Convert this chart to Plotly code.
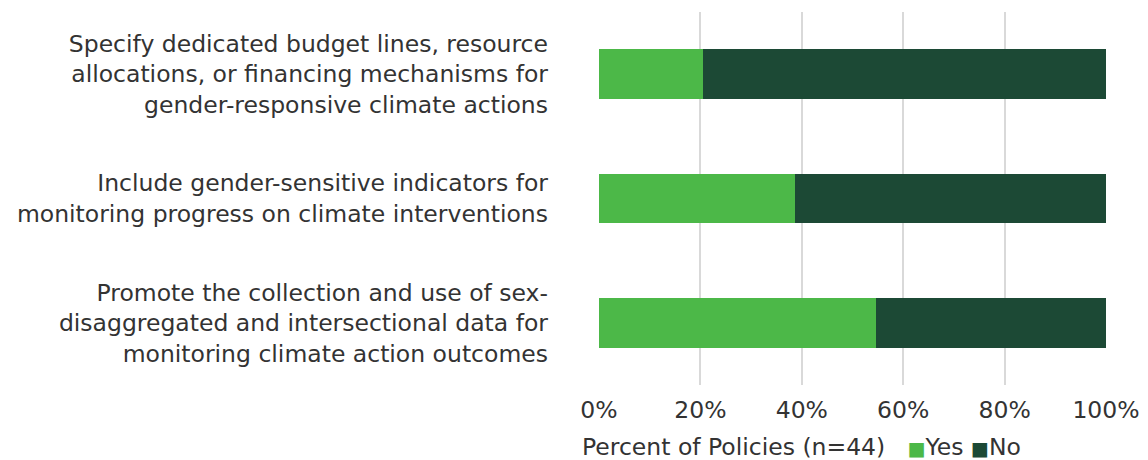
import plotly.graph_objects as go

categories = [
    "Specify dedicated budget lines, resource<br>allocations, or financing mechanisms for<br>gender-responsive climate actions",
    "Include gender-sensitive indicators for<br>monitoring progress on climate interventions",
    "Promote the collection and use of sex-<br>disaggregated and intersectional data for<br>monitoring climate action outcomes",
]
yes_pct = [20.45, 38.64, 54.55]
no_pct = [79.55, 61.36, 45.45]
tick_vals = [0, 20, 40, 60, 80, 100]
tick_text = ["0%", "20%", "40%", "60%", "80%", "100%"]
series_names = ["Yes", "No"]
series_colors = ["#4CB848", "#1C4935"]
axis_title = "Percent of Policies (n=44)"

FONT = "DejaVu Sans"
FS = 23.5
L, R, T, B = 599, 42, 12, 75
W, H = 1148, 460

fig = go.Figure()
for name, vals, col in zip(series_names, [yes_pct, no_pct], series_colors):
    fig.add_trace(go.Bar(y=categories, x=vals, orientation="h", name=name,
                         marker=dict(color=col, line=dict(width=0)),
                         showlegend=False))

legend_html = " ".join(
    f"<span style='color:{c};font-size:19px'>■</span>{n}" for n, c in zip(series_names, series_colors)
)
fig.add_annotation(text=axis_title + "   " + legend_html, xref="paper", yref="paper",
                   x=(580 - L) / (W - L - R), xanchor="left",
                   y=-(447 - (H - B)) / (H - T - B), yanchor="middle",
                   showarrow=False, font=dict(size=FS, color="#333333"))

fig.update_layout(
    width=W, height=H,
    barmode="stack", bargap=0.6,
    margin=dict(l=L, r=R, t=T, b=B, autoexpand=False),
    plot_bgcolor="white", paper_bgcolor="white",
    font=dict(family=FONT, size=FS, color="#333333"),
    xaxis=dict(range=[0, 100], tickvals=tick_vals, ticktext=tick_text,
               showgrid=True, gridcolor="#d9d9d9", gridwidth=2,
               zeroline=False, showline=False, ticks="", ticklabelstandoff=8,
               tickfont=dict(size=FS), automargin=False),
    yaxis=dict(autorange="reversed", showgrid=False, ticks="", showline=False,
               ticklabelstandoff=50, tickfont=dict(size=FS), automargin=False),
    showlegend=False,
)

fig.write_html("out.html")
